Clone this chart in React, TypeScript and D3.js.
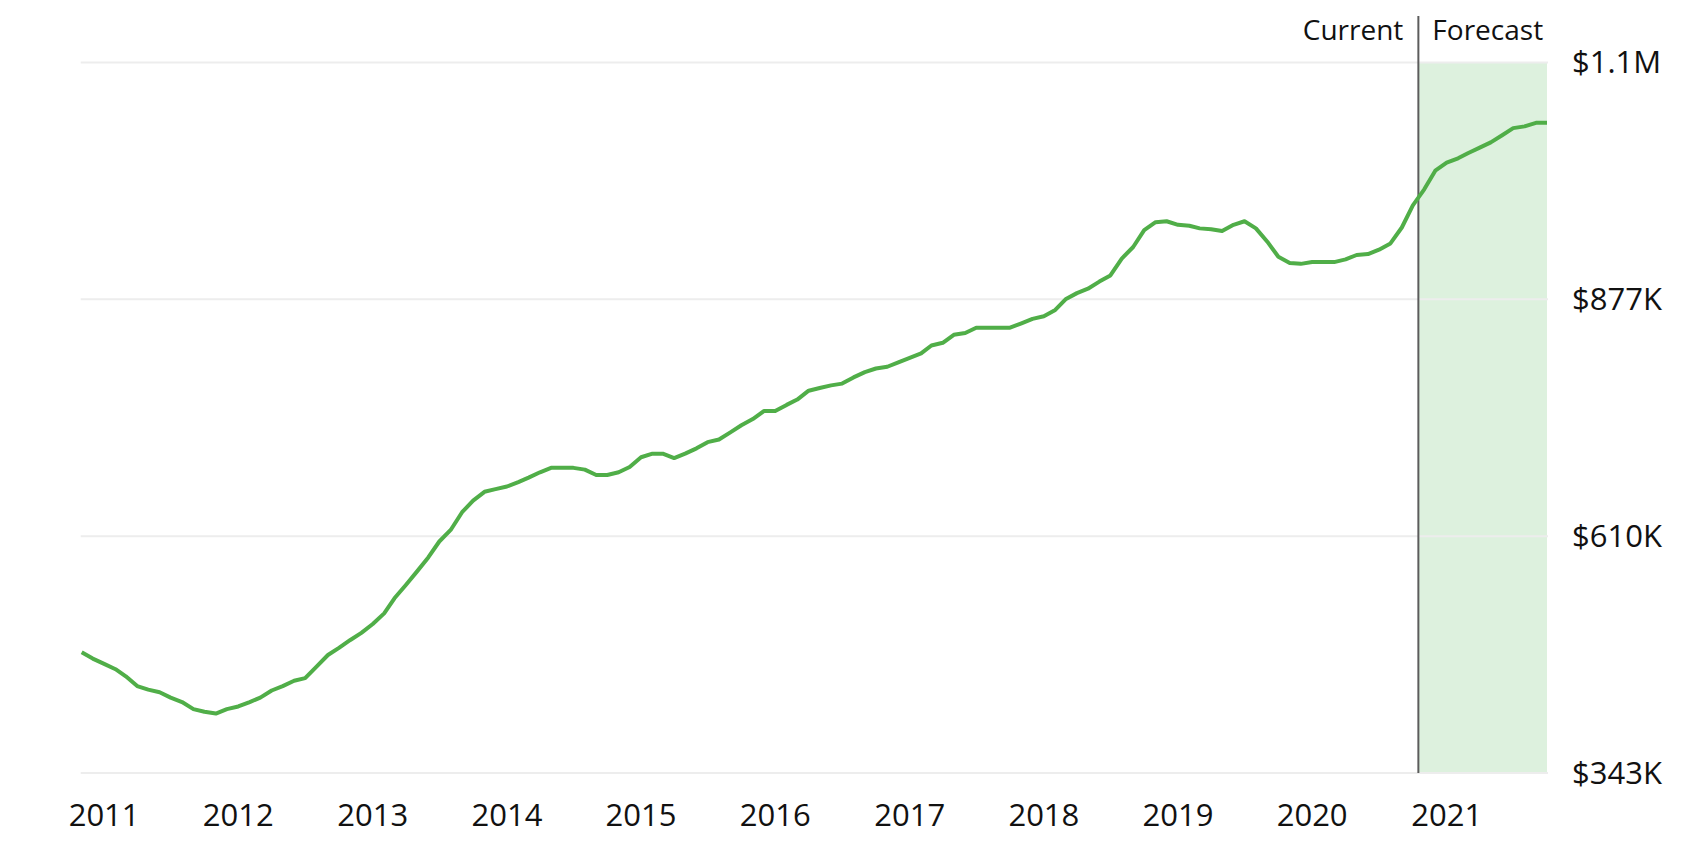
import React from "react";
import * as d3 from "d3";

// ---- Data (values in USD, monthly, starting Nov 2010) ----
const startMonth = new Date(2010, 10, 1);

const historyValues = [
  479, 472, 466, 460, 452, 441, 437, 434, 428, 423, 415, 412,
  410, 415, 418, 423, 428, 436, 441, 447, 450, 463, 476, 484,
  493, 501, 511, 523, 540, 555, 570, 586, 604, 617, 637, 650,
  660, 663, 666, 671, 676, 682, 687, 687, 687, 685, 679, 679,
  682, 688, 699, 703, 703, 698, 703, 709, 716, 719, 727, 735,
  742, 751, 751, 758, 764, 774, 777, 780, 782, 789, 795, 799,
  801, 806, 811, 816, 825, 828, 837, 839, 845, 845, 845, 845,
  850, 855, 858, 865, 877, 884, 889, 897, 904, 923, 936, 955,
  964, 965, 961, 960, 957, 956, 954, 961, 965, 957, 942, 925,
  918, 917, 919, 919, 919, 922, 927, 928, 933, 940, 958, 983,
].map((v) => v * 1000);

const forecastValues = [
  1001, 1022, 1031, 1036, 1042, 1048, 1054, 1062, 1070, 1072, 1076, 1076,
].map((v) => v * 1000);

const yTickValues = [343000, 610000, 877000, 1144000];
const yTickLabels = ["$343K", "$610K", "$877K", "$1.1M"];

const yearTicks = [2011, 2012, 2013, 2014, 2015, 2016, 2017, 2018, 2019, 2020, 2021];

const dividerDate = new Date(2020, 9, 16);
const headerLeft = "Current";
const headerRight = "Forecast";

// ---- Layout ----
const W = 1704;
const H = 856;
const plotLeft = 81.7;
const plotRight = 1547;
const plotTop = 62.5;
const plotBottom = 773;
const FONT = "'Open Sans', 'Noto Sans', sans-serif";

export default function App() {
  const allValues = [...historyValues, ...forecastValues];
  const data = allValues.map((v, i) => ({
    date: d3.timeMonth.offset(startMonth, i),
    value: v,
  }));
  const endDate = data[data.length - 1].date;

  const x = d3.scaleTime().domain([startMonth, endDate]).range([plotLeft, plotRight]);
  const y = d3
    .scaleLinear()
    .domain([yTickValues[0], yTickValues[yTickValues.length - 1]])
    .range([plotBottom, plotTop]);

  const line = d3
    .line<{ date: Date; value: number }>()
    .x((d) => x(d.date))
    .y((d) => y(d.value));

  const xDiv = x(dividerDate);

  return (
    <svg
      width={W}
      height={H}
      style={{ position: "absolute", left: 0, top: 0, background: "#fff" }}
      fontFamily={FONT}
    >
      {/* forecast shading */}
      <rect
        x={xDiv}
        y={plotTop}
        width={plotRight - xDiv}
        height={plotBottom - plotTop}
        fill="#ddf1de"
      />
      {/* gridlines */}
      {yTickValues.map((t) => (
        <line
          key={t}
          x1={plotLeft - 1}
          x2={plotRight + 1}
          y1={y(t)}
          y2={y(t)}
          stroke="#ededed"
          strokeWidth={2}
        />
      ))}
      {/* y labels */}
      {yTickValues.map((t, i) => (
        <text
          key={"l" + t}
          x={plotRight + 25}
          y={y(t)}
          dy="0.35em"
          fontSize={31}
          fill="#111"
        >
          {yTickLabels[i]}
        </text>
      ))}
      {/* x labels */}
      {yearTicks.map((yr) => (
        <text
          key={yr}
          x={x(new Date(yr, 0, 1))}
          y={826}
          textAnchor="middle"
          fontSize={31}
          fill="#111"
        >
          {yr}
        </text>
      ))}
      {/* divider */}
      <line x1={xDiv} x2={xDiv} y1={16} y2={plotBottom} stroke="#5c5c5c" strokeWidth={2} />
      <text x={xDiv - 15} y={40} textAnchor="end" fontSize={28} fill="#111">
        {headerLeft}
      </text>
      <text x={xDiv + 14} y={40} textAnchor="start" fontSize={28} fill="#111">
        {headerRight}
      </text>
      {/* line */}
      <path
        d={line(data) || ""}
        fill="none"
        stroke="#50ae48"
        strokeWidth={4}
        strokeLinejoin="round"
      />
    </svg>
  );
}
